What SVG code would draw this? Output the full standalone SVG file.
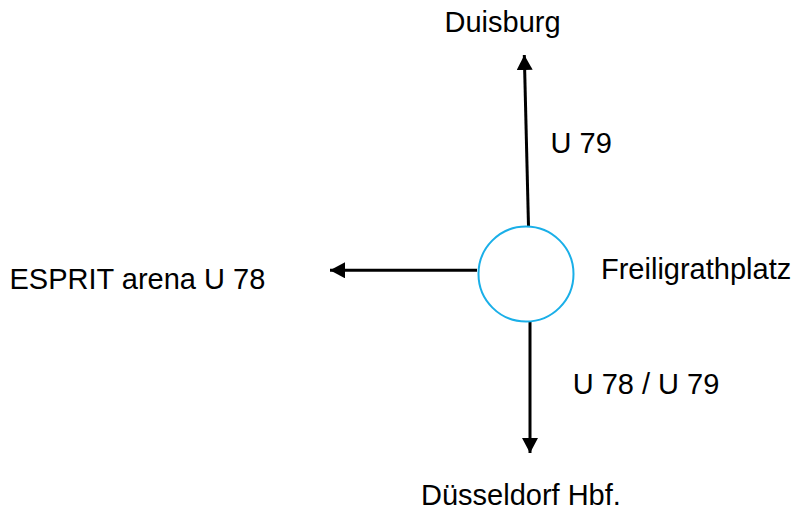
<svg xmlns="http://www.w3.org/2000/svg" width="798" height="508" viewBox="0 0 798 508">
<style>
text{font-family:"Liberation Sans",Arial,sans-serif;font-size:29px;fill:#000}
.c{stroke:#000;stroke-width:3;fill:none}
</style>
<defs>
<marker id="ah" markerUnits="userSpaceOnUse" markerWidth="16" markerHeight="16" refX="15" refY="8" orient="auto">
<path d="M0,0 L15,8 L0,16 Z" fill="#000"/>
</marker>
</defs>
<rect width="798" height="508" fill="#fff"/>
<g id="connectors">
<line class="c" x1="528.5" y1="226" x2="524.3" y2="55" marker-end="url(#ah)"/>
<line class="c" x1="477" y1="270.3" x2="330" y2="270.3" marker-end="url(#ah)"/>
<line class="c" x1="530" y1="322" x2="530" y2="453" marker-end="url(#ah)"/>
</g>
<g id="freiligrathplatz">
<circle cx="526" cy="274" r="47.5" fill="#fff" stroke="#1AAFE8" stroke-width="2"/>
<text x="601" y="279">Freiligrathplatz</text>
</g>
<g id="duisburg"><text x="444.5" y="32">Duisburg</text></g>
<g id="esprit"><text x="9.5" y="289">ESPRIT arena U 78</text></g>
<g id="duesseldorf"><text x="421" y="504.5">Düsseldorf Hbf.</text></g>
<g id="labels">
<text x="550.5" y="152.5">U 79</text>
<text x="572.7" y="394">U 78 / U 79</text>
</g>
</svg>
